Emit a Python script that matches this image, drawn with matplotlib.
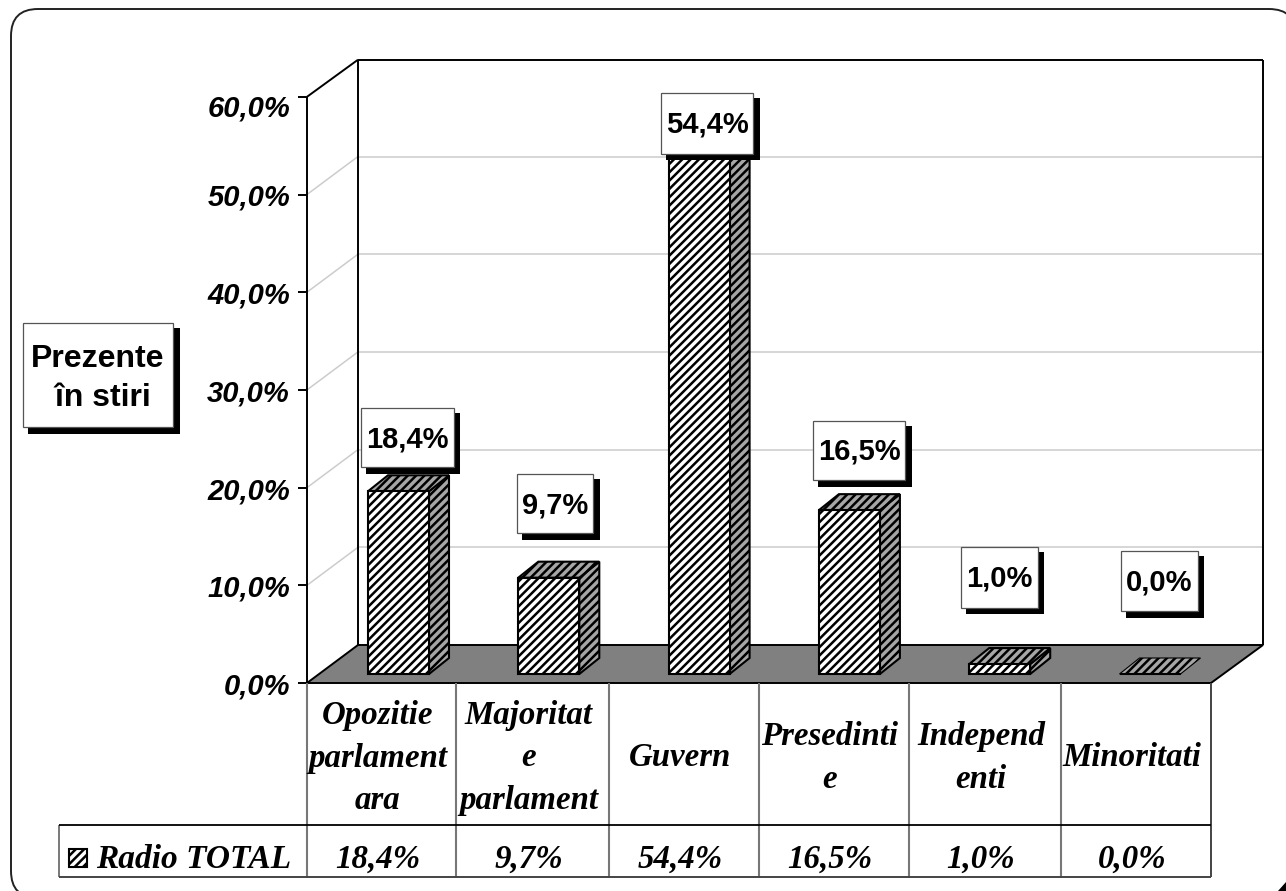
import matplotlib
matplotlib.use('Agg')
import matplotlib.pyplot as plt
from matplotlib.patches import Polygon, Rectangle, FancyBboxPatch

categorii = ["Opozitie\nparlament\nara", "Majoritat\ne\nparlament", "Guvern", "Presedinti\ne", "Independ\nenti", "Minoritati"]
valori = [18.4, 9.7, 54.4, 16.5, 1.0, 0.0]
etichete_val = ["18,4%", "9,7%", "54,4%", "16,5%", "1,0%", "0,0%"]
ticks = [0, 10, 20, 30, 40, 50, 60]
etichete_ticks = ["0,0%", "10,0%", "20,0%", "30,0%", "40,0%", "50,0%", "60,0%"]
serie = "Radio TOTAL"
titlu_y = "Prezente\n în stiri"

plt.rcParams['hatch.linewidth'] = 1.8

fig = plt.figure(figsize=(12.86, 8.91), dpi=100)
ax = fig.add_axes([0, 0, 1, 1])
ax.set_xlim(0, 1286)
ax.set_ylim(891, 0)
ax.axis('off')

SANS = 'Liberation Sans'
SERIF = 'Liberation Serif'
GRI = '#808080'
GRI_BARA = '#a6a6a6'
HASURA = '////'

# scara: pixeli pe unitate, perete fata si spate
y0_fata = 683
y0_spate = 645
sc_ax = 97.7 / 10
y0_bar = 674
sc_bar = 9.93
adanc_x = 51

def yf(v):
    return y0_fata - v * sc_ax

def ys(v):
    return y0_spate - v * sc_ax

def linie(x, y, c='black', lw=1.4, z=2):
    ax.plot(x, y, color=c, lw=lw, zorder=z, solid_capstyle='butt')

def cutie(x0, y0, x1, y1, text, fs, dt=1.5, **kw):
    # eticheta cu umbra neagra
    ax.add_patch(Rectangle((x0 + 5, y0 + 5), x1 - x0 + 1.5, y1 - y0 + 1.5, fc='black', ec='none', zorder=8))
    ax.add_patch(Rectangle((x0, y0), x1 - x0, y1 - y0, fc='white', ec='#555555', lw=0.9, zorder=9))
    ax.text((x0 + x1) / 2, (y0 + y1) / 2 + dt, text, family=SANS, weight='bold', fontsize=fs,
            ha='center', va='center', zorder=10, **kw)

# cadru rotunjit, iese din imagine la dreapta si jos
ax.add_patch(FancyBboxPatch((38, 36), 1231, 835, boxstyle='round,pad=27,rounding_size=27',
                            fc='white', ec='#222222', lw=1.4, zorder=0, clip_on=True))
ax.add_patch(Polygon([(1286, 882), (1286, 891), (1278, 891)], fc='black', ec='none', zorder=1))

# podea si pereti
ax.add_patch(Polygon([(307, y0_fata), (307 + adanc_x, y0_spate), (1263, y0_spate), (1211, y0_fata)],
                     fc=GRI, ec='black', lw=1.4, zorder=2))
for t in ticks[1:-1]:
    linie([307, 358], [yf(t), ys(t)], '#cccccc', 1.1, 1)
    linie([358, 1263], [ys(t), ys(t)], '#cccccc', 1.1, 1)
linie([307, 307], [yf(60), y0_fata])
linie([358, 358], [59.7, y0_spate])
linie([307, 358], [yf(60), 59.7])
linie([358, 1263], [59.7, 59.7])
linie([1263, 1263], [59.7, y0_spate])

# ticks axa y
for t, e in zip(ticks, etichete_ticks):
    linie([298, 307], [yf(t), yf(t)])
    dy = 11.5 if t == 60 else 3.5
    ax.text(290, yf(t) + dy, e, family=SANS, weight='bold', style='italic', fontsize=21,
            ha='right', va='center', color='black', zorder=3)

# bare 3D
dx = 20
dy = -16
lat = 61
for i, v in enumerate(valori):
    x = 368 + 150.3 * i
    top = y0_bar - v * sc_bar
    lw = 1.5
    if v > 0:
        ax.add_patch(Polygon([(x + lat, y0_bar), (x + lat + dx, y0_bar + dy), (x + lat + dx, top + dy), (x + lat, top)],
                             fc=GRI_BARA, ec='black', hatch=HASURA, lw=lw, zorder=4))
    ax.add_patch(Polygon([(x, top), (x + dx, top + dy), (x + lat + dx, top + dy), (x + lat, top)],
                         fc=GRI_BARA, ec='black', hatch=HASURA, lw=lw if v > 0 else 0.8, zorder=4))
    if v > 0:
        ax.add_patch(Rectangle((x, top), lat, y0_bar - top, fc='white', ec='black', hatch=HASURA, lw=lw, zorder=5))
    else:
        linie([x, x + lat], [y0_bar, y0_bar], 'black', 1.5, 5)

# etichete cu valori
cutii = [(361, 408, 453.5, 467), (517, 474, 593, 533), (661, 93, 753, 153.5),
         (813, 421, 905, 480), (961, 547, 1037.5, 607.5), (1121, 551, 1197.5, 611)]
for c, e in zip(cutii, etichete_val):
    cutie(c[0], c[1], c[2], c[3], e, 21)
cutie(23, 323, 173, 427, titlu_y, 23, dt=3.5, linespacing=1.38)

# tabel de date
col_x = [307, 456, 609, 759, 909, 1061, 1211]
y_sus = 683
y_mij = 825
y_jos = 877
for x in col_x[:-1]:
    linie([x, x], [y_sus, y_jos], '#777777', 1.5, 3)
linie([1211, 1211], [y_sus, y_jos], '#444444', 1.4, 3)
linie([59, 59], [y_mij, y_jos], '#555555', 1.1, 3)
linie([59, 1211], [y_mij, y_mij], 'black', 1.3, 3)
linie([59, 1211], [y_jos, y_jos], '#444444', 1.4, 3)

for i, (c, e) in enumerate(zip(categorii, etichete_val)):
    xm = (col_x[i] + col_x[i + 1]) / 2 - 4
    ax.text(xm, 758, c, family=SERIF, weight='bold', style='italic', fontsize=23.7,
            ha='center', va='center', linespacing=1.46, zorder=4)
    ax.text(xm, 859, e, family=SERIF, weight='bold', style='italic', fontsize=23.7,
            ha='center', va='center', zorder=4)

# legenda
ax.add_patch(Rectangle((69, 849), 18, 18, fc='white', ec='black', hatch=HASURA, lw=1.5, zorder=4))
ax.text(96, 859, serie, family=SERIF, weight='bold', style='italic', fontsize=24,
        ha='left', va='center', zorder=4)

fig.savefig('out.png', dpi=100)
